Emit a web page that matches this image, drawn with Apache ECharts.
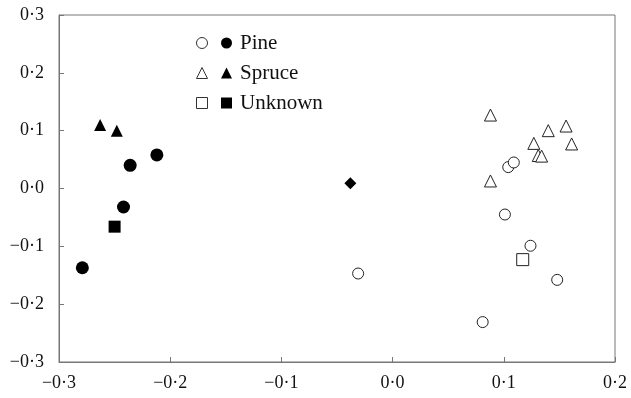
<!DOCTYPE html>
<html>
<head>
<meta charset="utf-8">
<script src="https://cdn.jsdelivr.net/npm/echarts@6/dist/echarts.min.js"></script>
<style>
  html, body { margin: 0; padding: 0; background: #fff; }
  #main { width: 631px; height: 398px; }
</style>
</head>
<body>
<div id="main"></div>
<script>
// values, [x, y]
var pineOpen = [[0.104, 0.037], [0.109, 0.045], [0.101, -0.045], [0.124, -0.099], [-0.031, -0.147], [0.148, -0.158], [0.081, -0.231]];
var pineFilled = [[-0.279, -0.137], [-0.242, -0.032], [-0.236, 0.040], [-0.212, 0.058]];
var spruceOpen = [[0.088, 0.127], [0.140, 0.100], [0.156, 0.108], [0.127, 0.078], [0.161, 0.077], [0.131, 0.057], [0.134, 0.056], [0.088, 0.013]];
var spruceFilled = [[-0.263, 0.110], [-0.248, 0.100]];
var unknownOpen = [[0.117, -0.123]];
var unknownFilled = [[-0.250, -0.066]];
var other = [[-0.038, 0.009]];

var xTicks = [-0.3, -0.2, -0.1, 0.0, 0.1, 0.2];
var yTicks = [-0.3, -0.2, -0.1, 0.0, 0.1, 0.2, 0.3];

var serif = 'Liberation Serif';
var fmt = function (v) {
    return v.toFixed(1).replace('.', '\u00b7').replace('-', '\u2212');
};

var myChart = echarts.init(document.getElementById('main'));

function hollow(name, symbol, size, data) {
    return {
        name: name, type: 'scatter', symbol: symbol, symbolSize: size, data: data,
        itemStyle: { color: '#fff', borderColor: '#222', borderWidth: 1, opacity: 1 }
    };
}
function solid(name, symbol, size, data) {
    return {
        name: name, type: 'scatter', symbol: symbol, symbolSize: size, data: data,
        itemStyle: { color: '#000', opacity: 1 }
    };
}

var openIcon = { color: '#fff', borderColor: '#333', borderWidth: 1 };

myChart.setOption({
    backgroundColor: '#fff',
    animation: false,
    grid: { left: 59, right: 16, top: 15, bottom: 36, show: true, borderColor: '#777', borderWidth: 1 },
    legend: [{
        // open symbols, no text
        orient: 'vertical', left: 191, top: 23,
        itemWidth: 11, itemHeight: 11, itemGap: 0,
        data: [
            { name: 'Pine open', icon: 'circle', itemStyle: openIcon },
            { name: 'Spruce open', icon: 'triangle', itemStyle: openIcon },
            { name: 'Unknown open', icon: 'rect', itemStyle: openIcon }
        ],
        formatter: function () { return ' '; },
        textStyle: { fontFamily: serif, fontSize: 21, lineHeight: 30 },
        selectedMode: false
    }, {
        orient: 'vertical', left: 216, top: 23,
        itemWidth: 11, itemHeight: 11, itemGap: 0,
        data: [
            { name: 'Pine', icon: 'circle', itemStyle: { color: '#000' } },
            { name: 'Spruce', icon: 'triangle', itemStyle: { color: '#000' } },
            { name: 'Unknown', icon: 'rect', itemStyle: { color: '#000' } }
        ],
        textStyle: { fontFamily: serif, fontSize: 21, lineHeight: 30, color: '#111', padding: [0, 0, 0, 3] },
        selectedMode: false
    }],
    xAxis: {
        type: 'value', min: xTicks[0], max: xTicks[xTicks.length - 1], interval: 0.1,
        axisLine: { onZero: false, lineStyle: { color: '#777' } },
        axisTick: { inside: true, length: 5, lineStyle: { color: '#777' } },
        axisLabel: { formatter: fmt, fontFamily: serif, fontSize: 18, color: '#111', margin: 12 },
        splitLine: { show: false }
    },
    yAxis: {
        type: 'value', min: yTicks[0], max: yTicks[yTicks.length - 1], interval: 0.1,
        axisLine: { onZero: false, lineStyle: { color: '#777' } },
        axisTick: { inside: true, length: 5, lineStyle: { color: '#777' } },
        axisLabel: { formatter: fmt, fontFamily: serif, fontSize: 18, color: '#111', margin: 15 },
        splitLine: { show: false }
    },
    series: [
        hollow('Pine open', 'circle', 11, pineOpen),
        hollow('Spruce open', 'triangle', 12, spruceOpen),
        hollow('Unknown open', 'rect', 12, unknownOpen),
        solid('Pine', 'circle', 13, pineFilled),
        solid('Spruce', 'triangle', 12, spruceFilled),
        solid('Unknown', 'rect', 12, unknownFilled),
        solid('Other', 'diamond', 12, other)
    ]
});
</script>
</body>
</html>
